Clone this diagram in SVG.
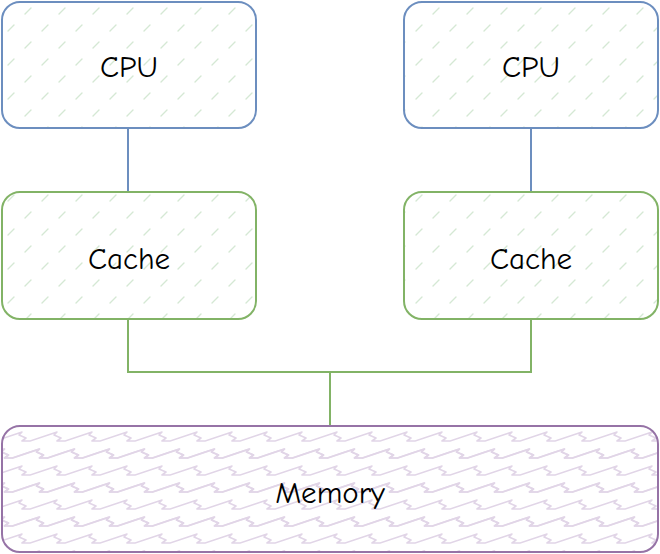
<svg xmlns="http://www.w3.org/2000/svg" width="660" height="554" viewBox="0 0 660 554">
<defs>
<style>
.lbl{font-family:"Comic Neue","Liberation Sans",sans-serif;font-size:31px;fill:#000;text-anchor:middle;dominant-baseline:central}
.cpu rect{stroke:#6c8ebf;stroke-width:2}
.cache rect{stroke:#82b366;stroke-width:2}
.mem rect{stroke:#9673a6;stroke-width:2}
.conn path{fill:none;stroke-width:2}
.zz{fill:none;stroke:#e1d5e7;stroke-width:1.6;stroke-linejoin:round}
</style>
<pattern id="hg" width="34" height="34" patternUnits="userSpaceOnUse">
<path d="M8 31 L14 25 M25 14 L31 8" stroke="#d5e8d4" stroke-width="1.4" stroke-linecap="round"/>
</pattern>
<pattern id="zz" width="35" height="34" patternUnits="userSpaceOnUse" patternTransform="translate(-5,428)">
<path id="zrow" class="zz" d="M-35 13 l27 -9 l-3 3 l7 3 l-4 3 l8 0 l27 -9 l-3 3 l7 3 l-4 3 l8 0 l27 -9 l-3 3 l7 3 l-4 3 l8 0"/>
<use href="#zrow" x="17.5" y="17"/>
<use href="#zrow" x="-17.5" y="17"/>
</pattern>
</defs>
<rect width="660" height="554" fill="#fff"/>
<g class="conn">
<path d="M128 128 V192" stroke="#6c8ebf"/>
<path d="M531 128 V192" stroke="#6c8ebf"/>
<path d="M128 320 V372 H531 V320" stroke="#82b366"/>
<path d="M330 372 V426" stroke="#82b366"/>
</g>
<g id="cpu1" class="cpu"><rect x="2" y="2" width="254" height="126" rx="18" fill="url(#hg)"/><text class="lbl" x="129" y="67">CPU</text></g>
<g id="cpu2" class="cpu"><rect x="404" y="2" width="254" height="126" rx="18" fill="url(#hg)"/><text class="lbl" x="531" y="67">CPU</text></g>
<g id="cache1" class="cache"><rect x="2" y="192" width="254" height="127" rx="18" fill="url(#hg)"/><text class="lbl" x="129" y="259">Cache</text></g>
<g id="cache2" class="cache"><rect x="404" y="192" width="254" height="127" rx="18" fill="url(#hg)"/><text class="lbl" x="531" y="259">Cache</text></g>
<g id="memory" class="mem"><rect x="2" y="426" width="656" height="126" rx="18" fill="url(#zz)"/><text class="lbl" x="330" y="493">Memory</text></g>
</svg>
